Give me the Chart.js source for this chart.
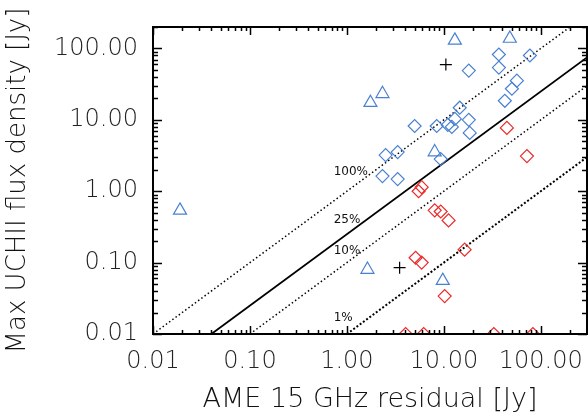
<!DOCTYPE html>
<html>
<head>
<meta charset="utf-8">
<script src="https://cdn.jsdelivr.net/npm/chart.js@4.4.1/dist/chart.umd.min.js"></script>
<style>
  html, body { margin: 0; padding: 0; background: #fff; }
  #chart { display: block; }
</style>
</head>
<body>
<canvas id="chart" width="588" height="420"></canvas>
<script>
// ---------------------------------------------------------------------------
// Data (AME 15 GHz residual vs max UCHII flux, Jy)
// ---------------------------------------------------------------------------
const blueDiamondX = [37.0, 77.3, 18.1, 37.0, 56.7, 50.4, 42.6, 14.6, 13.0, 18.1,
                      5.0, 8.45, 11.0, 12.1, 18.5, 2.51, 3.34, 2.33, 3.34, 9.29];
const blueDiamondY = [82.3, 79.7, 49.0, 54.0, 35.4, 27.3, 18.5, 14.8, 10.3, 10.0,
                      8.2, 8.2, 8.5, 7.97, 6.56, 3.21, 3.54, 1.63, 1.48, 2.82];

const blueTriangleX = [13.0, 48.0, 1.75, 2.33, 0.019, 8.05, 1.63, 9.75];
const blueTriangleY = [130, 138, 17.4, 23.2, 0.54, 3.54, 0.080, 0.056];

const redDiamondX = [44.7, 72.0, 5.50, 5.91, 8.05, 9.29, 11.2, 16.4, 5.12, 5.91,
                     10.2, 4.04, 6.2, 32.8, 83.0];
const redDiamondY = [7.71, 3.11, 1.0, 1.14, 0.54, 0.52, 0.39, 0.152, 0.117, 0.10,
                     0.034, 0.01, 0.01, 0.01, 0.01];

const plusX = [10.5, 3.50];
const plusY = [59.5, 0.085];

// reference ratio lines (UCHII = fraction x AME), given by their end points
const ratioLabels = ['100%', '25%', '10%', '1%'];
const ratioStartX = [0.01, 0.04, 0.1, 1.0];
const ratioStartY = [0.01, 0.01, 0.01, 0.01];
const ratioEndX = [200, 300, 300, 300];
const ratioEndY = [200, 75, 30, 3];
const ratioLabelX = [0.73, 0.73, 0.73, 0.73];
const ratioLabelY = [1.85, 0.40, 0.148, 0.0168];

const xTickValues = [0.01, 0.1, 1, 10, 100];
const xTickLabels = ['0.01', '0.10', '1.00', '10.00', '100.00'];
const yTickValues = [0.01, 0.1, 1, 10, 100];
const yTickLabels = ['0.01', '0.10', '1.00', '10.00', '100.00'];

const X_MIN = 0.01, X_MAX = 300;
const Y_MIN = 0.01, Y_MAX = 200;

const BLUE = 'rgb(74, 128, 210)';
const RED = 'rgb(238, 40, 40)';
const FONT = "'DejaVu Sans', sans-serif";

const pairs = (xs, ys) => xs.map((x, i) => ({ x: x, y: ys[i] }));

// ---------------------------------------------------------------------------
// Frame, inward ticks on all four sides and ratio line labels
// ---------------------------------------------------------------------------
const framePlugin = {
    id: 'frame',
    afterDatasetsDraw(chart) {
        const { ctx, chartArea: a, scales } = chart;
        const xs = scales.x, ys = scales.y;
        ctx.save();
        ctx.strokeStyle = '#000';

        const minorTicks = (min, max) => {
            const out = [];
            for (let e = Math.floor(Math.log10(min)); e <= Math.ceil(Math.log10(max)); e++) {
                for (let m = 1; m <= 9; m++) {
                    const v = m * Math.pow(10, e);
                    if (v >= min * 0.999 && v <= max * 1.001) out.push({ v: v, major: m === 1 });
                }
            }
            return out;
        };

        ctx.lineWidth = 1.5;
        ctx.beginPath();
        minorTicks(X_MIN, X_MAX).forEach(t => {
            const px = Math.round(xs.getPixelForValue(t.v)) + 0.5;
            const len = t.major ? 8 : 4;
            ctx.moveTo(px, a.bottom); ctx.lineTo(px, a.bottom - len);
            ctx.moveTo(px, a.top); ctx.lineTo(px, a.top + len);
        });
        minorTicks(Y_MIN, Y_MAX).forEach(t => {
            const py = Math.round(ys.getPixelForValue(t.v)) + 0.5;
            const len = t.major ? 9 : 5;
            ctx.moveTo(a.left, py); ctx.lineTo(a.left + len, py);
            ctx.moveTo(a.right, py); ctx.lineTo(a.right - len, py);
        });
        ctx.stroke();

        ctx.lineWidth = 2;
        ctx.strokeRect(a.left, a.top, a.right - a.left, a.bottom - a.top);

        ctx.fillStyle = '#111';
        ctx.font = '12px ' + FONT;
        ctx.textAlign = 'left';
        ctx.textBaseline = 'middle';
        ratioLabels.forEach((txt, i) => {
            ctx.fillText(txt, xs.getPixelForValue(ratioLabelX[i]), ys.getPixelForValue(ratioLabelY[i]));
        });
        ctx.restore();
    }
};

const ratioStyles = [
    { borderDash: [1.5, 2.5], borderWidth: 1.5 },
    { borderDash: [], borderWidth: 1.8 },
    { borderDash: [1.5, 2.5], borderWidth: 1.5 },
    { borderDash: [2, 2], borderWidth: 2 }
];

const ratioDatasets = ratioLabels.map((lab, i) => ({
    type: 'line',
    label: lab,
    data: [{ x: ratioStartX[i], y: ratioStartY[i] }, { x: ratioEndX[i], y: ratioEndY[i] }],
    borderColor: '#000',
    borderWidth: ratioStyles[i].borderWidth,
    borderDash: ratioStyles[i].borderDash,
    pointRadius: 0,
    fill: false,
    order: 5
}));

const markerDataset = (label, data, style, color, radius) => ({
    type: 'scatter',
    label: label,
    data: data,
    pointStyle: style,
    pointRadius: radius,
    pointBorderColor: color,
    pointBackgroundColor: 'rgba(0,0,0,0)',
    pointBorderWidth: 1.2,
    clip: 0,
    order: 1
});

const ctx = document.getElementById('chart').getContext('2d');
new Chart(ctx, {
    data: {
        datasets: [
            ...ratioDatasets,
            markerDataset('Blue diamonds', pairs(blueDiamondX, blueDiamondY), 'rectRot', BLUE, 6.5),
            markerDataset('Blue triangles', pairs(blueTriangleX, blueTriangleY), 'triangle', BLUE, 7.5),
            markerDataset('Red diamonds', pairs(redDiamondX, redDiamondY), 'rectRot', RED, 6.5),
            markerDataset('Plus', pairs(plusX, plusY), 'cross', '#000', 6)
        ]
    },
    options: {
        responsive: false,
        animation: false,
        devicePixelRatio: 1,
        layout: { autoPadding: false, padding: { top: 27, right: 1, left: 0, bottom: 0 } },
        plugins: {
            legend: { display: false },
            tooltip: { enabled: false }
        },
        scales: {
            x: {
                type: 'logarithmic',
                position: 'bottom',
                min: X_MIN,
                max: X_MAX,
                grid: { display: false, drawTicks: false },
                border: { display: false },
                // an empty tick at the right edge keeps the last label from padding the axis
                afterBuildTicks: s => { s.ticks = [...xTickValues, X_MAX].map(v => ({ value: v })); },
                afterFit: s => { s.height = 86; s.paddingLeft = 0; s.paddingRight = 0; },
                ticks: {
                    autoSkip: false,
                    maxRotation: 0,
                    padding: 0,
                    color: '#222',
                    font: { family: FONT, size: 24, weight: '200', lineHeight: 2.33 },
                    callback: (v, i) => xTickLabels[i] || ''
                },
                title: {
                    display: true,
                    text: 'AME 15 GHz residual [Jy]',
                    color: '#111',
                    font: { family: FONT, size: 27, weight: '200' },
                    padding: { top: 0, bottom: 4 }
                }
            },
            y: {
                type: 'logarithmic',
                position: 'left',
                min: Y_MIN,
                max: Y_MAX,
                grid: { display: false, drawTicks: false },
                border: { display: false },
                afterBuildTicks: s => { s.ticks = yTickValues.map(v => ({ value: v })); },
                afterFit: s => { s.width = 153; s.paddingTop = 0; s.paddingBottom = 0; },
                ticks: {
                    autoSkip: false,
                    padding: 15,
                    color: '#222',
                    font: { family: FONT, size: 24, weight: '200' },
                    callback: (v, i) => yTickLabels[i]
                },
                title: {
                    display: true,
                    text: 'Max UCHII flux density [Jy]',
                    color: '#111',
                    font: { family: FONT, size: 26, weight: '200' },
                    padding: { top: 3, bottom: 0 }
                }
            }
        }
    },
    plugins: [framePlugin]
});
</script>
</body>
</html>
